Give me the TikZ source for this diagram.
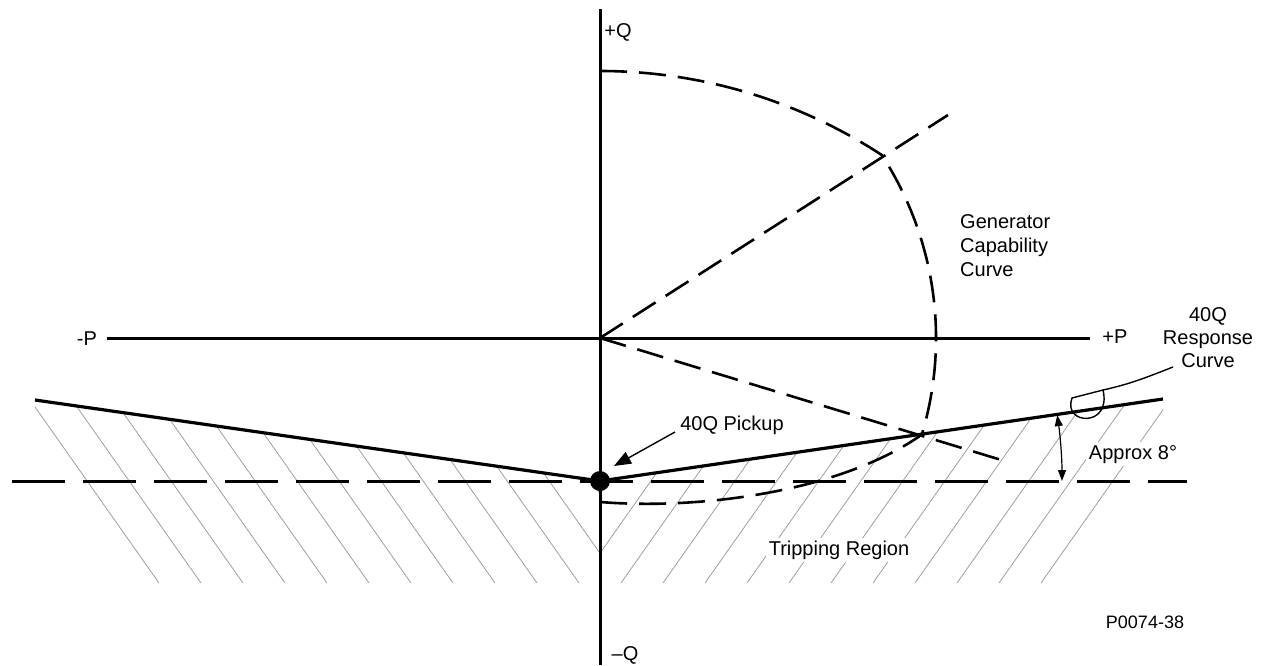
\documentclass[tikz,border=0pt]{standalone}
\usepackage{fontspec}
\setmainfont{Liberation Sans}
\usetikzlibrary{arrows.meta}
\begin{document}
\begin{tikzpicture}[x=1pt,y=1pt,
  every node/.style={inner sep=0pt, font=\fontsize{20}{24}\selectfont},
  axis/.style={line width=3pt},
  resp/.style={line width=3.2pt},
  capdash/.style={line width=2.6pt, dash pattern=on 27pt off 12pt},
  pickdash/.style={line width=3pt, dash pattern=on 53pt off 18pt},
  hatchln/.style={line width=0.8pt, draw=black!38},
  lbl/.style={anchor=base},
  thinln/.style={line width=1.4pt}]
\useasboundingbox (-600,-327) rectangle (665,338);

% hatching (tripping region)
\begin{scope}
\clip (-565,-62) -- (0,-143) -- (0,-245) -- (-565,-245) -- cycle;
\foreach \k in {-2,...,10} \draw[hatchln] ({-21-42*\k},-245) -- ++(-150,213);
\end{scope}
\begin{scope}
\clip (0,-143) -- (563,-61) -- (563,-245) -- (0,-245) -- cycle;
\foreach \k in {-2,...,10} \draw[hatchln] ({21+42*\k},-245) -- ++(150,213);
\end{scope}

\node[lbl, fill=white, inner sep=3pt] (trip) at (239,-217) {Tripping Region};
\node[lbl, fill=white, inner sep=3pt] (apx) at (533,-121) {Approx 8°};

% axes
\coordinate (qtop) at (0,329);
\coordinate (qbot) at (0,-327);
\coordinate (pl) at (-493,0);
\coordinate (pr) at (490,0);
\draw[axis] (qtop) -- (qbot);
\draw[axis] (pl) -- (pr);

\node[lbl] (plusq) at (18,301) {+Q};
\node[lbl] (minq) at (25,-322) {–Q};
\node[lbl] (minp) at (-513,-7) {-P};
\node[lbl] (plusp) at (515,-5) {+P};

% diagonals
\coordinate (O) at (0,0);
\coordinate (d1) at (348,223);
\coordinate (d2) at (408,-124);
\draw[capdash] (O) -- (d1);
\draw[capdash] (O) -- (d2);

% capability curve
\coordinate (capstart) at (0,267);
\draw[capdash] (capstart) arc[start angle=90,end angle=56.8,radius=514.7pt]
  arc[start angle=33,end angle=-16.7,radius=336pt]
  .. controls (240,-154) and (100,-172) .. (0,-164);

% pickup level dashed line
\coordinate (hl) at (-588,-143);
\coordinate (hr) at (587,-143);
\draw[pickdash] (hl) -- (hr);

% response curve
\coordinate (pkc) at (0,-143);
\coordinate (rl) at (-565,-62);
\coordinate (rr) at (563,-61);
\draw[resp] (rl) -- (pkc) -- (rr);
\node[circle, fill=black, minimum size=20pt] (pk) at (pkc) {};

% pickup arrow
\node[lbl] (pklbl) at (132,-92) {40Q Pickup};
\coordinate (arrs) at (75,-94);
\coordinate (arrt) at (14,-128);
\draw[thinln, -{Triangle[length=17pt,width=13pt]}] (arrs) -- (arrt);

% labels
\node[anchor=west, align=left] (gen) at (360,92) {Generator\\Capability\\Curve};
\node[align=center, font=\fontsize{20}{23}\selectfont] (rsp) at (608,0) {40Q\\Response\\Curve};

% leader
\coordinate (ls) at (573,-29);
\draw[thinln] (ls) .. controls (545,-40) and (530,-46) .. (503,-52) -- (472,-60)
  .. controls (462,-87) and (512,-90) .. (503,-52);

% angle marker
\draw[line width=1.2pt, {Triangle[length=11pt,width=8pt]}-{Triangle[length=11pt,width=8pt]}]
  (pkc) ++(0:462) arc[start angle=0,end angle=8.2,radius=462pt];

\node[lbl, font=\fontsize{18}{22}\selectfont] (fig) at (545,-290) {P0074-38};
\end{tikzpicture}
\end{document}
